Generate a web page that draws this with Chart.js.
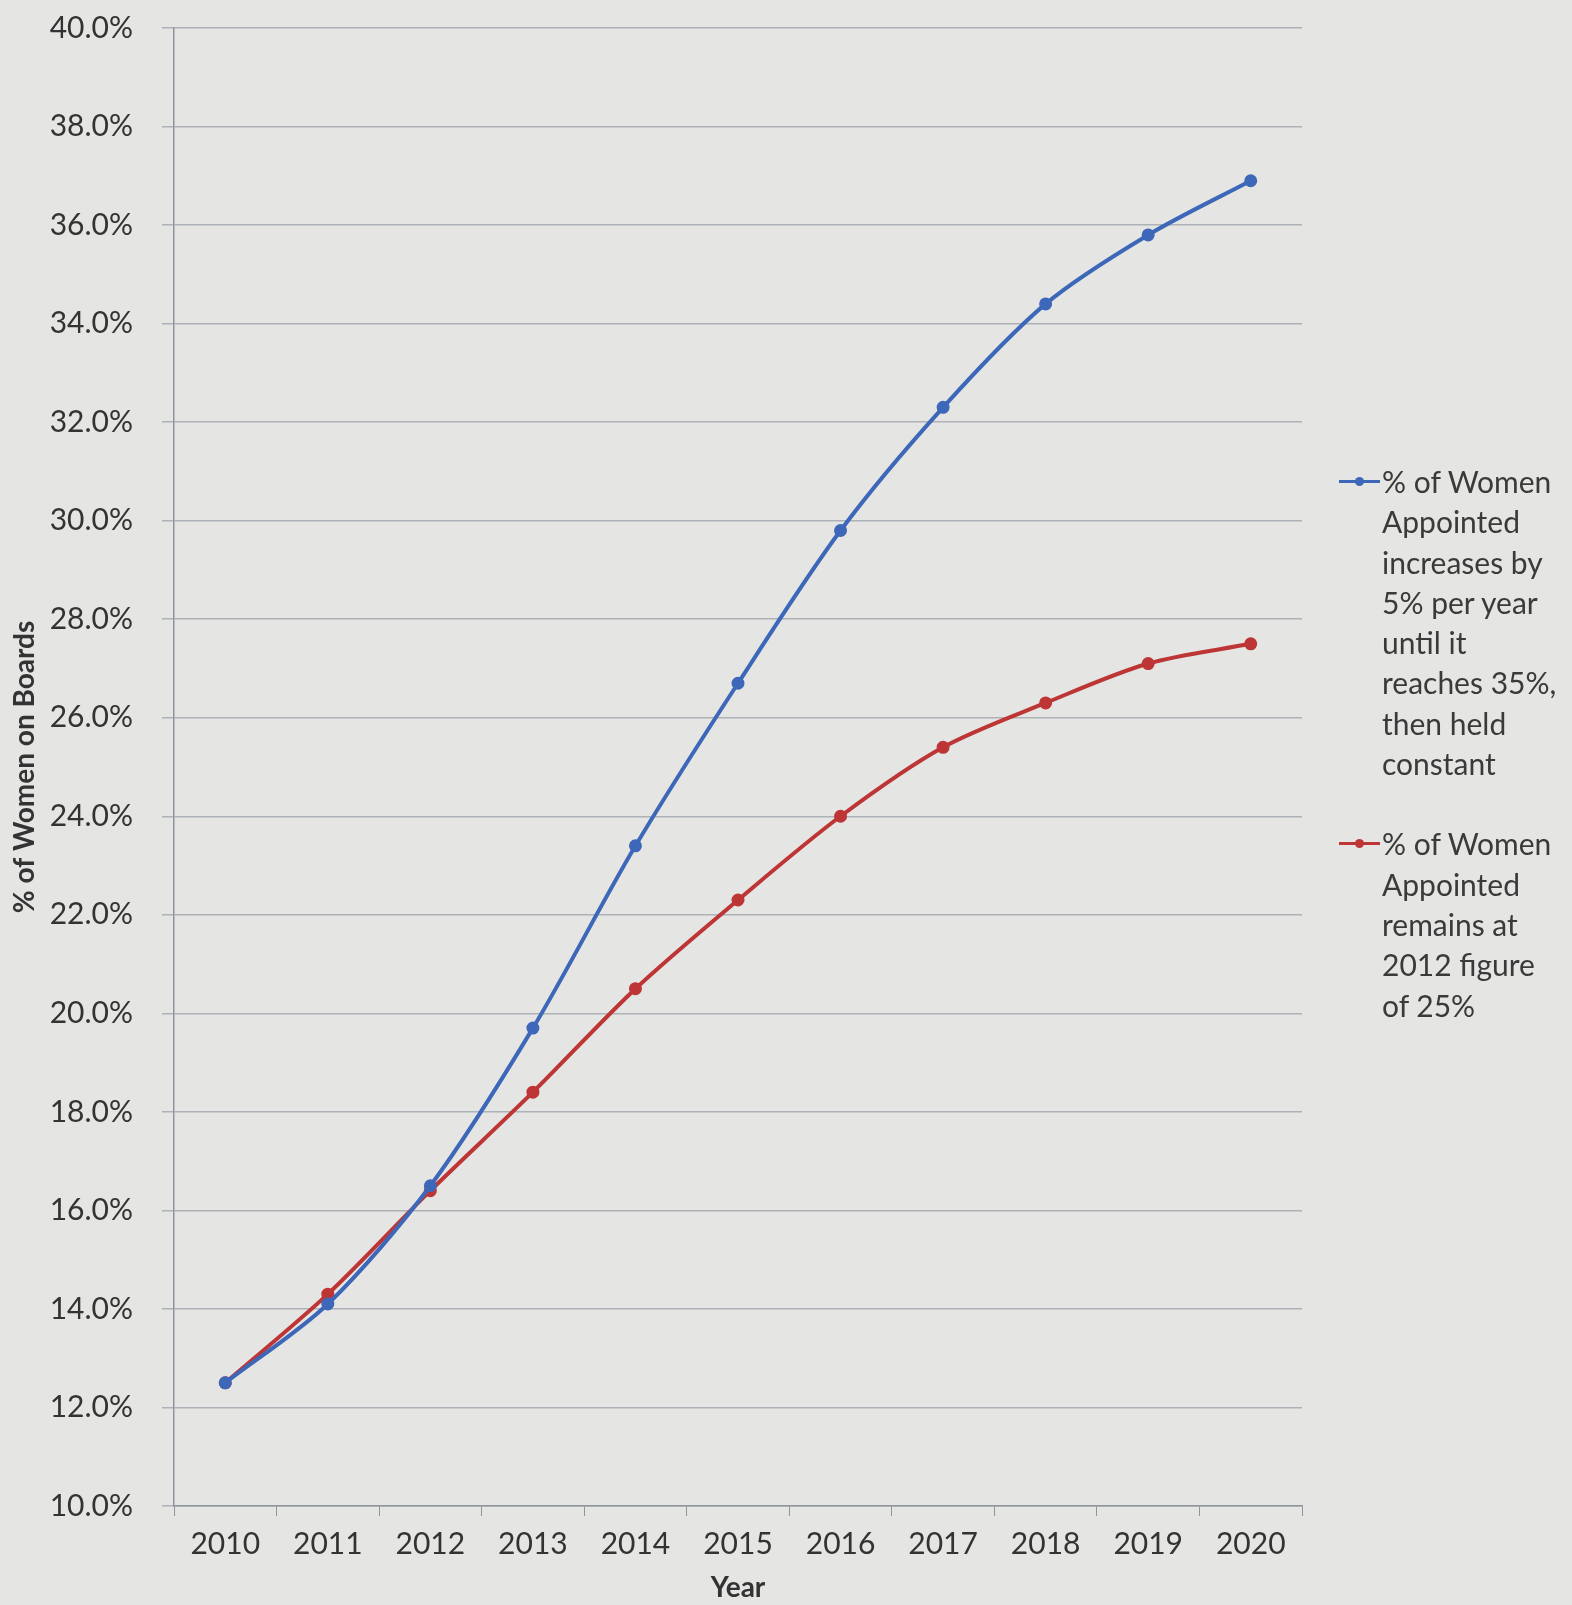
<!DOCTYPE html>
<html>
<head>
<meta charset="utf-8">
<script src="https://cdn.jsdelivr.net/npm/chart.js@4"></script>
<style>
  html, body { margin: 0; padding: 0; background: #e5e5e3; }
  #wrap { position: relative; width: 1572px; height: 1605px; }
  #legend { position: absolute; left: 1339px; top: 461px; font-family: Lato, sans-serif; font-size: 30px; color: #3a3a3a; line-height: 40.3px; }
  .item { position: relative; padding-left: 43px; margin-bottom: 40px; }
  .sample { position: absolute; left: 0; top: 19px; width: 41px; height: 3px; }
  .sample::after { content: ''; position: absolute; left: 16px; top: -3px; width: 9px; height: 9px; border-radius: 50%; background: inherit; }
</style>
</head>
<body>
<div id="wrap">
  <canvas id="womenChart" width="1572" height="1605"></canvas>
  <div id="legend"></div>
</div>
<script>
const years = ['2010', '2011', '2012', '2013', '2014', '2015', '2016', '2017', '2018', '2019', '2020'];
const increasing = [12.5, 14.1, 16.5, 19.7, 23.4, 26.7, 29.8, 32.3, 34.4, 35.8, 36.9];
const constant25 = [12.5, 14.3, 16.4, 18.4, 20.5, 22.3, 24.0, 25.4, 26.3, 27.1, 27.5];
const yTicks = [10, 12, 14, 16, 18, 20, 22, 24, 26, 28, 30, 32, 34, 36, 38, 40];

const seriesNames = [
  ['% of Women', 'Appointed', 'increases by', '5% per year', 'until it', 'reaches 35%,', 'then held', 'constant'],
  ['% of Women', 'Appointed', 'remains at', '2012 figure', 'of 25%']
];
const blue = '#3d67b8';
const red = '#bd3535';

const ctx = document.getElementById('womenChart').getContext('2d');
Chart.defaults.font.family = 'Lato, sans-serif';
Chart.defaults.color = '#333';

const chart = new Chart(ctx, {
  type: 'line',
  data: {
    labels: years,
    datasets: [
      {
        label: seriesNames[0].join(' '),
        data: increasing,
        borderColor: blue,
        backgroundColor: blue,
        borderWidth: 4,
        pointRadius: 4.5,
        tension: 0.3,
        fill: false,
      },
      {
        label: seriesNames[1].join(' '),
        data: constant25,
        borderColor: red,
        backgroundColor: red,
        borderWidth: 4,
        pointRadius: 4.5,
        tension: 0.3,
        fill: false,
      },
    ],
  },
  options: {
    responsive: false,
    animation: false,
    layout: { padding: { top: 28, right: 270, left: 0, bottom: 0 } },
    plugins: { legend: { display: false }, tooltip: { enabled: false } },
    scales: {
      x: {
        offset: true,
        grid: { display: true, drawOnChartArea: false, offset: true, tickLength: 10, color: '#8f939b' },
        border: { color: '#8f939b', width: 1.5 },
        ticks: { font: { size: 30 }, padding: 10, maxRotation: 0 },
        title: { display: true, text: 'Year', font: { size: 28, weight: 'bold' }, padding: { top: 0, bottom: 0 } },
        afterFit: function (scale) { scale.height = 99; },
      },
      y: {
        min: 10,
        max: 40,
        afterBuildTicks: function (scale) { scale.ticks = yTicks.map(v => ({ value: v })); },
        grid: { color: '#adb1b8', lineWidth: 1.5, tickLength: 12 },
        border: { color: '#8f939b', width: 1.5 },
        ticks: {
          font: { size: 30 },
          padding: 29,
          callback: v => v.toFixed(1) + '%',
        },
        title: { display: true, text: '% of Women on Boards', font: { size: 28, weight: 'bold' }, padding: { top: 8, bottom: 0 } },
        afterFit: function (scale) {
          scale.width = 174;
          scale.paddingTop = 0;
          scale.paddingBottom = 0;
        },
      },
    },
  },
});

// multi-line legend beside the plot
const legend = document.getElementById('legend');
chart.data.datasets.forEach((ds, i) => {
  const item = document.createElement('div');
  item.className = 'item';
  const s = document.createElement('span');
  s.className = 'sample';
  s.style.background = ds.borderColor;
  item.appendChild(s);
  item.insertAdjacentHTML('beforeend', seriesNames[i].join('<br>'));
  legend.appendChild(item);
});
</script>
</body>
</html>
